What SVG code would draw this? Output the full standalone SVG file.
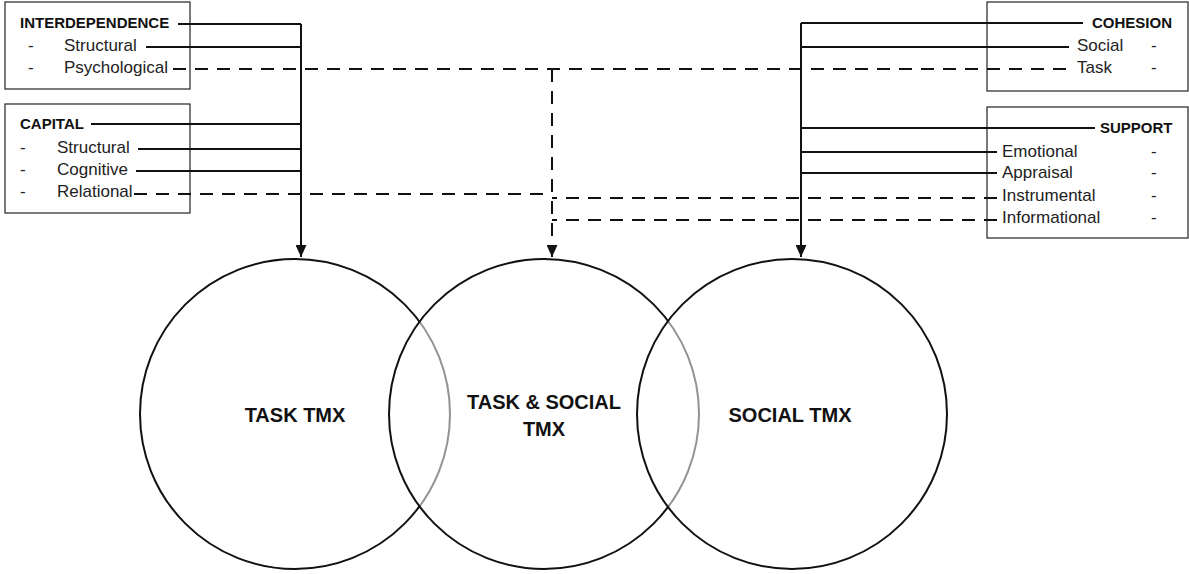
<svg xmlns="http://www.w3.org/2000/svg" width="1189" height="574" viewBox="0 0 1189 574">
<style>
.box{fill:#fff;stroke:#333;stroke-width:1.3}
.h{font-family:"Liberation Sans",Arial,sans-serif;font-weight:bold;font-size:15px;fill:#111}
.t{font-family:"Liberation Sans",Arial,sans-serif;font-size:17px;fill:#222}
.big{font-family:"Liberation Sans",Arial,sans-serif;font-weight:bold;font-size:20px;fill:#111;text-anchor:middle}
.ln{fill:none;stroke:#111;stroke-width:2}
.dl{fill:none;stroke:#111;stroke-width:2;stroke-dasharray:13 9}
.c{fill:#fff;fill-opacity:0.55;stroke:#111;stroke-width:2}
</style>
<defs>
<marker id="arr" viewBox="0 0 12 11" refX="12" refY="5.5" markerWidth="12" markerHeight="11" markerUnits="userSpaceOnUse" orient="auto">
<path d="M0,0 L12,5.5 L0,11 Z" fill="#111"/>
</marker>
</defs>
<g id="interdependence">
<rect class="box" x="5" y="2" width="185" height="87"/>
<text class="h" x="20" y="28">INTERDEPENDENCE</text>
<text class="t" x="28" y="51">-</text>
<text class="t" x="64" y="51">Structural</text>
<text class="t" x="28" y="73">-</text>
<text class="t" x="64" y="73">Psychological</text>
</g>
<g id="capital">
<rect class="box" x="5" y="104" width="185" height="109"/>
<text class="h" x="20" y="129">CAPITAL</text>
<text class="t" x="20" y="153">-</text>
<text class="t" x="57" y="153">Structural</text>
<text class="t" x="20" y="175">-</text>
<text class="t" x="57" y="175">Cognitive</text>
<text class="t" x="20" y="197">-</text>
<text class="t" x="57" y="197">Relational</text>
</g>
<g id="cohesion">
<rect class="box" x="987" y="2" width="201" height="89"/>
<text class="h" x="1092" y="28">COHESION</text>
<text class="t" x="1077" y="51">Social</text>
<text class="t" x="1151" y="51">-</text>
<text class="t" x="1077" y="73">Task</text>
<text class="t" x="1151" y="73">-</text>
</g>
<g id="support">
<rect class="box" x="987" y="107" width="201" height="131"/>
<text class="h" x="1100" y="133">SUPPORT</text>
<text class="t" x="1002" y="157">Emotional</text>
<text class="t" x="1151" y="157">-</text>
<text class="t" x="1002" y="178">Appraisal</text>
<text class="t" x="1151" y="178">-</text>
<text class="t" x="1002" y="201">Instrumental</text>
<text class="t" x="1151" y="201">-</text>
<text class="t" x="1002" y="223">Informational</text>
<text class="t" x="1151" y="223">-</text>
</g>
<g id="task-tmx">
<circle class="c" cx="295" cy="414" r="155"/>
<text class="big" x="295" y="422">TASK TMX</text>
</g>
<g id="task-social-tmx">
<circle class="c" cx="544" cy="414" r="155"/>
<text class="big" x="544" y="409">TASK &amp; SOCIAL</text>
<text class="big" x="544" y="436">TMX</text>
</g>
<g id="social-tmx">
<circle class="c" cx="792" cy="414" r="155"/>
<text class="big" x="790" y="422">SOCIAL TMX</text>
</g>
<g id="connectors">
<path class="ln" d="M178,24 H301 M146,47 H301 M91,124 H301 M138,149 H301 M136,171 H301"/>
<path class="ln" d="M301,24 V257" marker-end="url(#arr)"/>
<path class="ln" d="M1083,23 H801 M1069,47 H801 M1095,128 H801 M997,152 H801 M997,173 H801"/>
<path class="ln" d="M801,23 V257" marker-end="url(#arr)"/>
<path class="dl" d="M173,69 H1067"/>
<path class="dl" d="M134,194 H552"/>
<path class="dl" d="M997,198 H552 M997,220 H552"/>
<path class="dl" d="M552,69 V246"/>
<path class="ln" d="M552,246 V257" marker-end="url(#arr)"/>
</g>
</svg>
